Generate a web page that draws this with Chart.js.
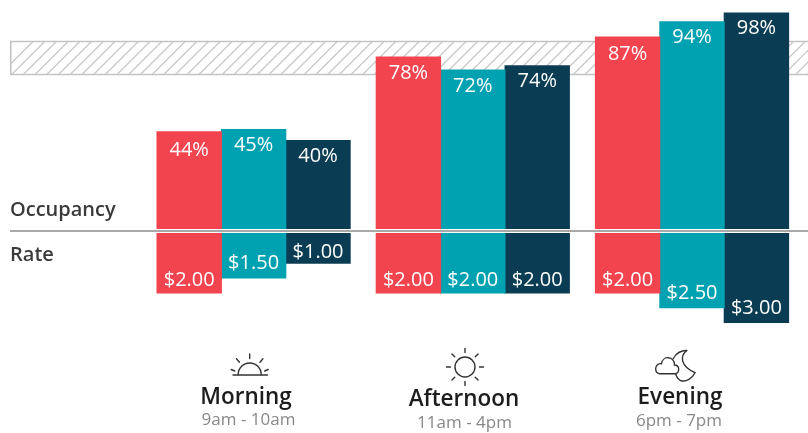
<!DOCTYPE html>
<html><head><meta charset="utf-8">
<style>html,body{margin:0;padding:0;background:#fff}#w{width:808px;height:433px;position:relative}</style>
<script src="https://cdn.jsdelivr.net/npm/chart.js@4"></script>
</head><body><div id="w"><canvas id="c" width="808" height="433"></canvas></div>
<script>
const categories = ['Morning','Afternoon','Evening'];
const timeRanges = ['9am - 10am','11am - 4pm','6pm - 7pm'];
const occupancyA = [44,78,87];
const occupancyB = [45,72,94];
const occupancyC = [40,74,98];
const rateA = [2,2,2];
const rateB = [1.5,2,2.5];
const rateC = [1,2,3];
const targetBand = [70,85];
const colors = ['#F2444E','#00A1B0','#0A3D54'];
const FONT = '"Open Sans"';

const mk = (data,i,axis,kind)=>({data,backgroundColor:colors[i],borderWidth:0,stack:'s'+i,yAxisID:axis,kind,slot:i,
  inflateAmount:0.5,categoryPercentage:0.8815,barPercentage:1});

const icons = {
  sun(c){ const x=465,y=367; c.beginPath();c.arc(x,y,10,0,7);c.stroke();
    for(let a=0;a<8;a++){const t=a*Math.PI/4;c.beginPath();c.moveTo(x+Math.cos(t)*14.5,y+Math.sin(t)*14.5);c.lineTo(x+Math.cos(t)*18.5,y+Math.sin(t)*18.5);c.stroke();}},
  rise(c){ const x=249.7,y=374.5; c.beginPath();c.moveTo(233,y+.5);c.lineTo(267.5,y+.5);c.stroke();
    c.beginPath();c.arc(x,y,11.5,Math.PI,0);c.stroke();
    [-90,-50,-130].forEach(d=>{const t=d*Math.PI/180;c.beginPath();c.moveTo(x+Math.cos(t)*16,y+Math.sin(t)*16);c.lineTo(x+Math.cos(t)*20.5,y+Math.sin(t)*20.5);c.stroke();});
    [-1,1].forEach(s=>{c.beginPath();c.moveTo(x+s*15,y-3.5);c.lineTo(x+s*18.5,y-5);c.stroke();});},
  moon(c){
    c.beginPath();c.moveTo(686.7,350.5);c.bezierCurveTo(680,356,680,366,695,372.7);
    c.bezierCurveTo(692,379,686,381.5,682,381);c.bezierCurveTo(679,380.5,677,378,675.5,373.7);c.stroke();
    c.beginPath();c.moveTo(686.7,350.5);c.bezierCurveTo(681,350.5,676,353.5,673.3,358.5);c.stroke();
    c.beginPath();c.moveTo(660,373.7);c.lineTo(675,373.7);c.bezierCurveTo(680,373.7,680,365,674.5,365);
    c.bezierCurveTo(674.5,356,663,355,661.5,363.7);c.bezierCurveTo(654,363,654,373.7,660,373.7);c.closePath();c.stroke();}
};

const decor = {
  id:'decor',
  beforeDatasetsDraw(ch){
    const c=ch.ctx, y=ch.scales.y, t=y.getPixelForValue(targetBand[1]), b=y.getPixelForValue(targetBand[0]);
    c.save();
    c.beginPath();c.rect(11,t,797,b-t);c.clip();
    c.strokeStyle='#c9c9c9';c.lineWidth=1.3;
    for(let x=0;x<900;x+=11.7){c.beginPath();c.moveTo(x,b);c.lineTo(x+(b-t),t);c.stroke();}
    c.restore();
    c.save();c.strokeStyle='#c4c4c4';c.lineWidth=1.6;
    c.beginPath();c.moveTo(808,t);c.lineTo(10.75,t);c.lineTo(10.75,b);c.lineTo(808,b);c.stroke();c.restore();
  },
  afterDatasetsDraw(ch){
    const c=ch.ctx;
    const occNudge=[[19,16,16],[16,16,16],[17,16,15]];
    const rateNudge=[[13,15,11],[13,13,13],[13,14,14]];
    c.save();
    c.strokeStyle='#a9a9a9';c.lineWidth=2;c.beginPath();c.moveTo(10,231);c.lineTo(808,231);c.stroke();
    c.textBaseline='middle';c.textAlign='center';c.fillStyle='#fff';c.font='20px '+FONT;
    ch.data.datasets.forEach((ds,i)=>{
      ch.getDatasetMeta(i).data.forEach((bar,j)=>{
        const v=ds.data[j];
        if(ds.kind==='occ') c.fillText(v+'%',bar.x,bar.y+occNudge[j][ds.slot]);
        else c.fillText('$'+v.toFixed(2),bar.x,bar.y-rateNudge[j][ds.slot]);
      });
    });
    c.textAlign='left';c.fillStyle='#3a3a3a';c.font='600 20px '+FONT;
    c.fillText('Occupancy',10,210);c.fillText('Rate',10,255);
    c.textAlign='center';
    const cx=[246,464,680], ty=[397.5,399.5,398], sx=[248.5,464.5,679], sy=[420.5,423.5,421.5];
    categories.forEach((n,i)=>{
      c.fillStyle='#1c1c1c';c.font='600 22.5px '+FONT;c.fillText(n,cx[i],ty[i]);
      c.fillStyle='#888';c.font='17px '+FONT;c.fillText(timeRanges[i],sx[i],sy[i]);
    });
    c.strokeStyle='#333';c.lineWidth=1.4;c.lineCap='round';
    icons.rise(c);icons.sun(c);icons.moon(c);
    c.restore();
  }
};

new Chart(document.getElementById('c'),{
  type:'bar',
  data:{labels:categories,datasets:[
    mk(occupancyA,0,'y','occ'),mk(occupancyB,1,'y','occ'),mk(occupancyC,2,'y','occ'),
    mk(rateA,0,'r','rate'),mk(rateB,1,'r','rate'),mk(rateC,2,'r','rate')]},
  options:{responsive:false,animation:false,
    layout:{padding:{left:144,right:6.4,top:0,bottom:0}},
    plugins:{legend:{display:false},tooltip:{enabled:false},title:{display:false}},
    scales:{
      x:{display:false,stacked:true},
      y:{display:false,min:-92.95,max:103.86,stacked:true},
      r:{display:false,reverse:true,min:-7.862,max:6.717,stacked:true}
    }},
  plugins:[decor]
});
</script></body></html>
